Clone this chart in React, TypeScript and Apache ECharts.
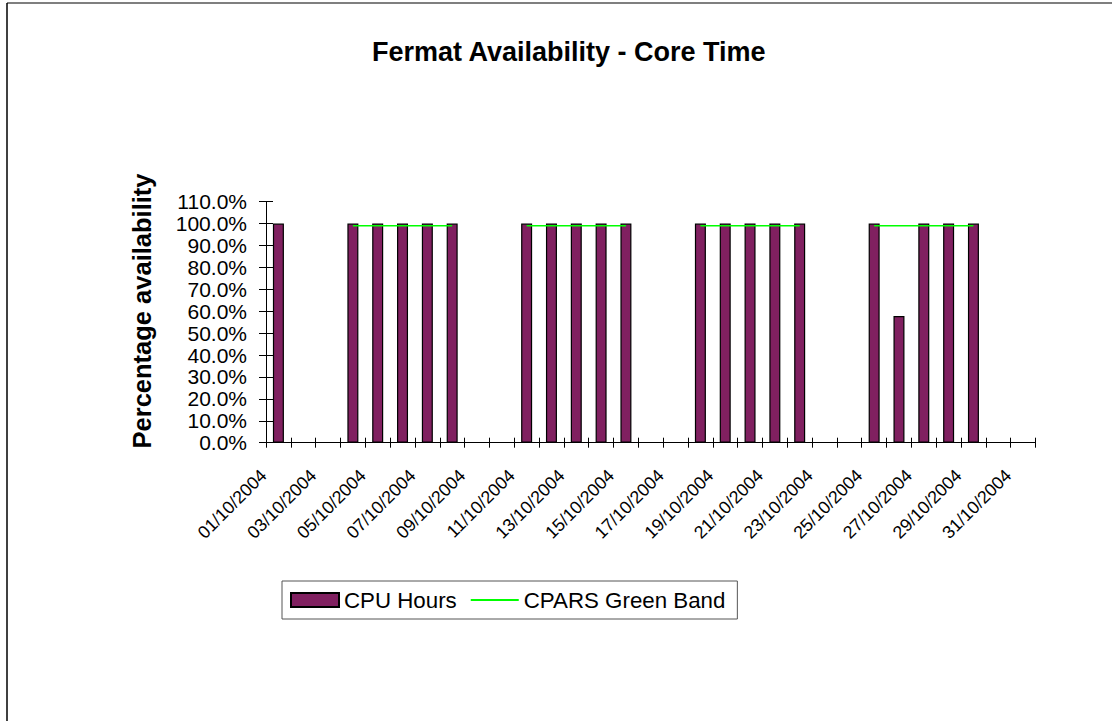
import React, { useEffect, useRef } from "react";
import * as echarts from "echarts";

const categories: string[] = [
  "01/10/2004", "02/10/2004", "03/10/2004", "04/10/2004", "05/10/2004", "06/10/2004",
  "07/10/2004", "08/10/2004", "09/10/2004", "10/10/2004", "11/10/2004", "12/10/2004",
  "13/10/2004", "14/10/2004", "15/10/2004", "16/10/2004", "17/10/2004", "18/10/2004",
  "19/10/2004", "20/10/2004", "21/10/2004", "22/10/2004", "23/10/2004", "24/10/2004",
  "25/10/2004", "26/10/2004", "27/10/2004", "28/10/2004", "29/10/2004", "30/10/2004",
  "31/10/2004",
];

// CPU Hours availability (%) per day; null = no bar (weekend / no data)
const cpuHours: (number | null)[] = [
  100, null, null, 100, 100, 100, 100, 100, null, null,
  100, 100, 100, 100, 100, null, null, 100, 100, 100,
  100, 100, null, null, 100, 57.8, 100, 100, 100, null,
  null,
];

// CPARS Green Band (%) per day
const greenBand: (number | null)[] = [
  null, null, null, 99, 99, 99, 99, 99, null, null,
  99, 99, 99, 99, 99, null, null, 99, 99, 99,
  99, 99, null, null, 99, 99, 99, 99, 99, null,
  null,
];

const yMin = 0;
const yMax = 110;
const yStep = 10;

const FONT = "'Liberation Sans', Arial, sans-serif";

export default function App() {
  const ref = useRef<HTMLDivElement>(null);

  useEffect(() => {
    document.body.style.margin = "0";
    if (!ref.current) return;
    const chart = echarts.init(ref.current, null, { renderer: "svg" });
    chart.setOption({
      animation: false,
      backgroundColor: "#ffffff",
      title: {
        text: "Fermat Availability - Core Time",
        left: 372,
        top: 38,
        padding: 0,
        textStyle: { fontFamily: FONT, fontSize: 27, fontWeight: "bold", color: "#000" },
      },
      legend: {
        left: 282,
        top: 581,
        orient: "horizontal",
        padding: [8, 12, 8, 8],
        itemWidth: 48,
        itemHeight: 14,
        itemGap: 13,
        borderColor: "#555",
        borderWidth: 1,
        borderRadius: 0,
        textStyle: { fontFamily: FONT, fontSize: 22.3, color: "#000" },
        data: [
          { name: "CPU Hours", icon: "rect" },
          {
            name: "CPARS Green Band",
            itemStyle: { color: "transparent", borderWidth: 0, opacity: 0 },
          },
        ],
      },
      grid: { left: 266, top: 201.7, width: 769.5, height: 241 },
      xAxis: [
        {
          type: "category",
          data: categories,
          boundaryGap: true,
          axisLine: { show: true, lineStyle: { color: "#000", width: 1 } },
          axisTick: { show: true, interval: 0, length: 5, lineStyle: { color: "#000" } },
          axisLabel: {
            interval: 1,
            rotate: 45,
            margin: 15,
            padding: [0, 21, 0, 0],
            fontFamily: FONT,
            fontSize: 17.8,
            color: "#000",
          },
          splitLine: { show: false },
        },
        {
          type: "category",
          data: categories,
          position: "bottom",
          boundaryGap: true,
          axisLine: { show: false },
          axisTick: { show: true, inside: true, interval: 0, length: 5, lineStyle: { color: "#000" } },
          axisLabel: { show: false },
          splitLine: { show: false },
        },
      ],
      yAxis: [
        {
          type: "value",
          min: yMin,
          max: yMax,
          interval: yStep,
          position: "left",
          axisLine: { show: true, lineStyle: { color: "#000", width: 1 } },
          axisTick: { show: true, length: 7, lineStyle: { color: "#000" } },
          axisLabel: {
            margin: 19,
            fontFamily: FONT,
            fontSize: 21,
            lineHeight: 20,
            color: "#000",
            formatter: (v: number) => v.toFixed(1) + "%",
          },
          splitLine: { show: false },
        },
        {
          type: "value",
          min: yMin,
          max: yMax,
          interval: yStep,
          position: "left",
          axisLine: { show: false },
          axisTick: { show: true, inside: true, length: 7, lineStyle: { color: "#000" } },
          axisLabel: { show: false },
          splitLine: { show: false },
        },
      ],
      series: [
        {
          name: "CPU Hours",
          type: "bar",
          xAxisIndex: 0,
          yAxisIndex: 0,
          data: cpuHours,
          barWidth: 11,
          itemStyle: { color: "#802060", borderColor: "#000", borderWidth: 1.2 },
        },
        {
          name: "CPARS Green Band",
          type: "line",
          xAxisIndex: 0,
          yAxisIndex: 0,
          data: greenBand,
          symbol: "none",
          showSymbol: false,
          connectNulls: false,
          lineStyle: { color: "#00ff00", width: 1.5 },
          itemStyle: { color: "#00ff00" },
        },
      ],
      graphic: [
        {
          type: "line",
          shape: { x1: 7, y1: 3, x2: 1112, y2: 3 },
          style: { stroke: "#555", lineWidth: 1.5 },
          silent: true,
        },
        {
          type: "line",
          shape: { x1: 7, y1: 3, x2: 7, y2: 721 },
          style: { stroke: "#000", lineWidth: 1.5 },
          silent: true,
        },
        {
          type: "text",
          x: 142,
          y: 311,
          rotation: Math.PI / 2,
          style: {
            text: "Percentage availability",
            textAlign: "center",
            textVerticalAlign: "middle",
            font: `bold 25.5px ${FONT}`,
            fill: "#000",
          },
          silent: true,
        },
      ],
    });
    return () => chart.dispose();
  }, []);

  return <div ref={ref} style={{ width: 1112, height: 721 }} />;
}
